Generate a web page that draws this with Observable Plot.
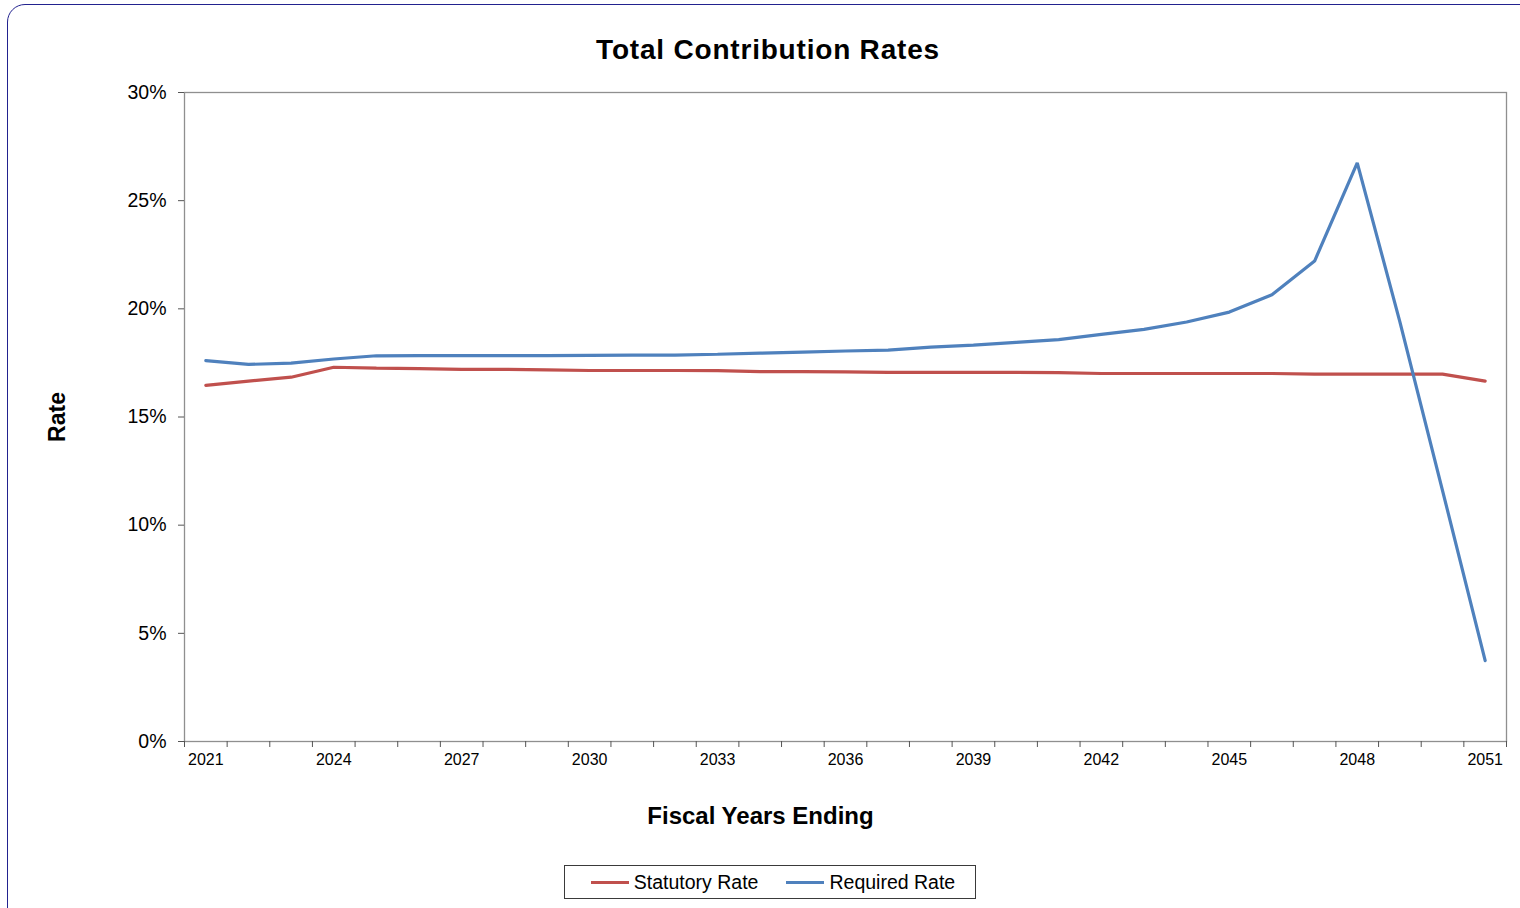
<!DOCTYPE html>
<html>
<head>
<meta charset="utf-8">
<script src="https://cdn.jsdelivr.net/npm/d3@7"></script>
<script src="https://cdn.jsdelivr.net/npm/@observablehq/plot@0.6"></script>
<style>
  html, body { margin: 0; padding: 0; background: #fff; }
  body { width: 1520px; height: 908px; overflow: hidden; position: relative; font-family: "Liberation Sans", Arial, sans-serif; }
  #frame { position: absolute; left: 7px; top: 4px; width: 1540px; height: 930px; border: 1.5px solid #22228f; border-radius: 18px; box-sizing: border-box; }
  #title { position: absolute; left: 768px; top: 35px; transform: translateX(-50%); font-size: 28px; letter-spacing: 0.8px; line-height: 30px; font-weight: bold; color: #000; white-space: nowrap; }
  #chart { position: absolute; left: 0; top: 70px; }
  #chart svg { overflow: visible; }
  #chart g[aria-label="y-axis label"] text { font-weight: bold; font-size: 23px; fill: #000; }
  #chart g[aria-label="x-axis label"] text { font-weight: bold; font-size: 24px; fill: #000; }
  #legend { position: absolute; left: 564px; top: 865px; width: 412px; height: 34px; border: 1px solid #3a3a3a; box-sizing: border-box; display: flex; align-items: center; justify-content: center; gap: 28px; padding-left: 6px; font-size: 19.5px; color: #000; }
  .item { display: flex; align-items: center; }
  .sw { width: 38px; height: 3px; margin-right: 5px; }
</style>
</head>
<body>
<div id="frame"></div>
<div id="title">Total Contribution Rates</div>
<div id="chart"></div>
<div id="legend"></div>
<script>
// Fiscal years (categories)
const years = [2021, 2022, 2023, 2024, 2025, 2026, 2027, 2028, 2029, 2030,
               2031, 2032, 2033, 2034, 2035, 2036, 2037, 2038, 2039, 2040,
               2041, 2042, 2043, 2044, 2045, 2046, 2047, 2048, 2049, 2050, 2051];
// Statutory Rate (%)
const statutoryRate = [16.46, 16.66, 16.84, 17.30, 17.26, 17.24, 17.20, 17.20, 17.18, 17.15,
                       17.15, 17.15, 17.14, 17.10, 17.10, 17.09, 17.06, 17.06, 17.06, 17.06,
                       17.05, 17.01, 17.01, 17.01, 17.01, 17.01, 16.98, 16.98, 16.98, 16.98, 16.66];
// Required Rate (%)
const requiredRate = [17.61, 17.43, 17.49, 17.68, 17.83, 17.84, 17.84, 17.84, 17.84, 17.85,
                      17.86, 17.86, 17.90, 17.95, 18.00, 18.05, 18.09, 18.23, 18.32, 18.45,
                      18.58, 18.82, 19.05, 19.39, 19.85, 20.65, 22.21, 26.75, 19.40, 11.60, 3.74];
// Tick labels
const xTickLabels = [2021, 2024, 2027, 2030, 2033, 2036, 2039, 2042, 2045, 2048, 2051];
const yTicks = [0, 5, 10, 15, 20, 25, 30];

const seriesNames = ["Statutory Rate", "Required Rate"];
const seriesColors = ["#C0504D", "#4F81BD"];

const data = [];
years.forEach((yr, i) => {
  data.push({year: yr, rate: statutoryRate[i], series: seriesNames[0]});
});
years.forEach((yr, i) => {
  data.push({year: yr, rate: requiredRate[i], series: seriesNames[1]});
});

// category boundaries for tick marks
const boundaries = years.map(y => y - 0.5).concat([years[years.length - 1] + 0.5]);

const plot = Plot.plot({
  width: 1520,
  height: 771,
  marginLeft: 184,
  marginRight: 14,
  marginTop: 22,
  marginBottom: 100,
  style: {fontFamily: '"Liberation Sans", Arial, sans-serif', color: "#000", background: "transparent"},
  x: {type: "linear", domain: [boundaries[0], boundaries[boundaries.length - 1]]},
  y: {domain: [0, 30]},
  color: {domain: seriesNames, range: seriesColors},
  marks: [
    Plot.frame({stroke: "#8f8f8f", strokeWidth: 1.3}),
    Plot.axisY({ticks: yTicks, tickSize: 6, tickPadding: 12, tickFormat: d => d + "%", fontSize: 19.5,
                stroke: "#555", line: true, label: "Rate", labelAnchor: "center", labelOffset: 136, labelArrow: "none"}),
    Plot.axisX({ticks: boundaries, tickSize: 6, tickFormat: () => "", stroke: "#555", line: true, label: null}),
    Plot.axisX({ticks: xTickLabels, tickSize: 0, tickPadding: 12, tickFormat: d => String(d), fontSize: 16,
                label: "Fiscal Years Ending", labelAnchor: "center", labelOffset: 82, labelArrow: "none"}),
    Plot.line(data, {x: "year", y: "rate", stroke: "series", z: "series", strokeWidth: 3.2, strokeLinejoin: "miter", strokeLinecap: "round"})
  ]
});
document.getElementById("chart").appendChild(plot);

// center the x-axis title on the whole chart width, as in the original
plot.querySelectorAll('g[aria-label="x-axis label"]').forEach(g => {
  const t = g.getAttribute("transform") || "";
  g.setAttribute("transform", "translate(-85,0) " + t);
});

const legend = document.getElementById("legend");
seriesNames.forEach((name, i) => {
  const item = document.createElement("div");
  item.className = "item";
  const sw = document.createElement("div");
  sw.className = "sw";
  sw.style.background = seriesColors[i];
  const t = document.createElement("span");
  t.textContent = name;
  item.appendChild(sw);
  item.appendChild(t);
  legend.appendChild(item);
});
</script>
</body>
</html>
